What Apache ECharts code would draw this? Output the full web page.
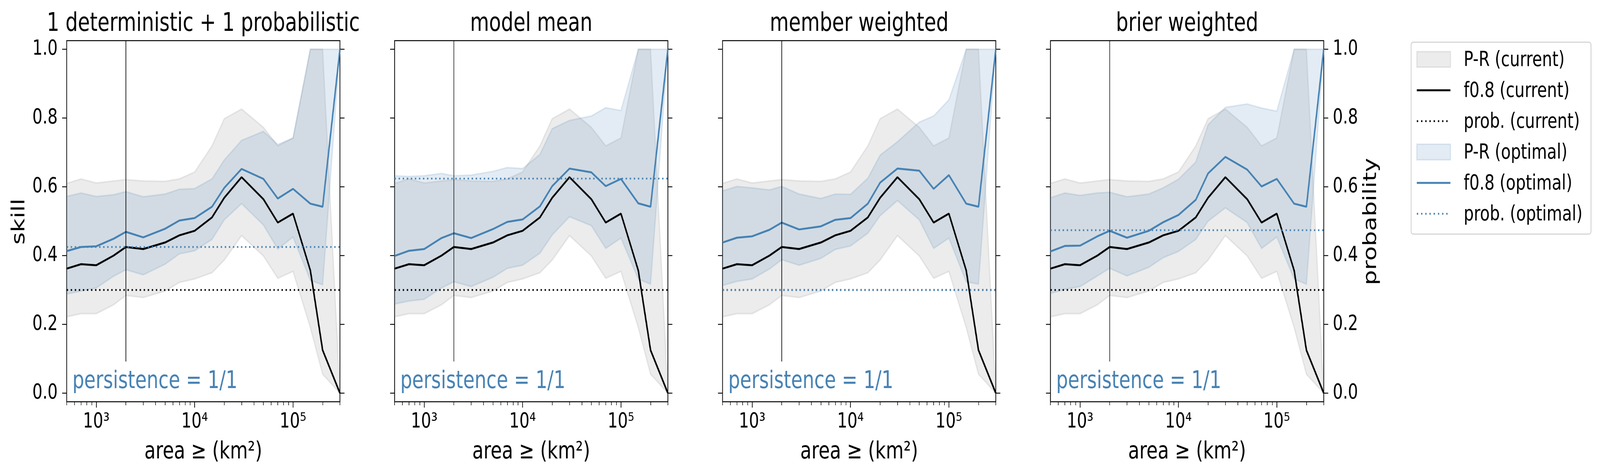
<!DOCTYPE html>
<html>
<head>
<meta charset="utf-8">
<script src="https://cdn.jsdelivr.net/npm/echarts@6.0.0/dist/echarts.min.js"></script>
<style>
  html, body { margin: 0; padding: 0; background: #fff; overflow: hidden; }
  #chart { width: 5328px; height: 1218px; transform-origin: 0 0; }
</style>
</head>
<body>
<div id="chart"></div>
<script>
// x values (area threshold, km²)
const areas = [500, 700, 1000, 1500, 2000, 3000, 5000, 7000, 10000, 15000, 20000, 30000, 50000, 70000, 100000, 150000, 200000, 300000];

const panelTitles = ["1 deterministic + 1 probabilistic", "model mean", "member weighted", "brier weighted"];

// current setup (same in every panel)
const f08Current = [0.362, 0.375, 0.372, 0.400, 0.425, 0.419, 0.438, 0.459, 0.472, 0.511, 0.568, 0.628, 0.564, 0.496, 0.522, 0.357, 0.125, 0.0];
const prCurrentHi = [0.610, 0.623, 0.611, 0.617, 0.621, 0.617, 0.616, 0.623, 0.643, 0.719, 0.798, 0.826, 0.773, 0.719, 0.742, 1.0, 1.0, 0.0];
const prCurrentLo = [0.222, 0.231, 0.231, 0.257, 0.284, 0.278, 0.297, 0.322, 0.332, 0.350, 0.387, 0.458, 0.399, 0.334, 0.354, 0.191, 0.055, 0.0];
const probCurrent = [0.30, 0.30, 0.30, 0.30];

// optimal setup, one array per panel
const f08Optimal = [
  [0.413, 0.425, 0.427, 0.449, 0.469, 0.453, 0.478, 0.502, 0.509, 0.542, 0.597, 0.652, 0.623, 0.566, 0.594, 0.551, 0.542, 1.0],
  [0.399, 0.414, 0.419, 0.451, 0.465, 0.451, 0.477, 0.498, 0.505, 0.543, 0.602, 0.653, 0.642, 0.602, 0.623, 0.552, 0.542, 1.0],
  [0.438, 0.452, 0.456, 0.475, 0.496, 0.476, 0.485, 0.504, 0.509, 0.551, 0.612, 0.653, 0.647, 0.594, 0.634, 0.551, 0.542, 1.0],
  [0.412, 0.428, 0.429, 0.456, 0.472, 0.452, 0.472, 0.497, 0.518, 0.562, 0.639, 0.687, 0.650, 0.601, 0.623, 0.551, 0.542, 1.0]
];
const prOptimalHi = [
  [0.572, 0.582, 0.572, 0.577, 0.586, 0.571, 0.579, 0.593, 0.595, 0.623, 0.678, 0.735, 0.761, 0.723, 0.742, 1.0, 1.0, 1.0],
  [0.632, 0.630, 0.632, 0.639, 0.632, 0.634, 0.645, 0.656, 0.653, 0.694, 0.769, 0.793, 0.806, 0.830, 0.822, 1.0, 1.0, 1.0],
  [0.588, 0.601, 0.597, 0.591, 0.601, 0.579, 0.566, 0.579, 0.578, 0.625, 0.692, 0.731, 0.788, 0.806, 0.853, 1.0, 1.0, 1.0],
  [0.568, 0.582, 0.575, 0.582, 0.584, 0.571, 0.579, 0.597, 0.622, 0.672, 0.780, 0.831, 0.841, 0.829, 0.820, 1.0, 1.0, 1.0]
];
const prOptimalLo = [
  [0.288, 0.297, 0.306, 0.340, 0.359, 0.344, 0.375, 0.405, 0.414, 0.447, 0.504, 0.551, 0.489, 0.419, 0.454, 0.328, 0.315, 1.0],
  [0.259, 0.268, 0.273, 0.306, 0.324, 0.310, 0.337, 0.363, 0.372, 0.407, 0.460, 0.513, 0.487, 0.421, 0.451, 0.332, 0.317, 1.0],
  [0.313, 0.325, 0.332, 0.361, 0.388, 0.372, 0.392, 0.418, 0.428, 0.465, 0.516, 0.560, 0.504, 0.421, 0.451, 0.324, 0.317, 1.0],
  [0.290, 0.302, 0.310, 0.341, 0.363, 0.341, 0.366, 0.394, 0.412, 0.447, 0.500, 0.539, 0.496, 0.421, 0.454, 0.332, 0.317, 1.0]
];
const probOptimal = [0.425, 0.624, 0.30, 0.474];

// vertical marker
const markerArea = 2000;
const markerRange = [0.092, 1.025];

const xMajorTicks = [1000, 10000, 100000];
const xMinorTicks = [500, 600, 700, 800, 900, 2000, 3000, 4000, 5000, 6000, 7000, 8000, 9000,
  20000, 30000, 40000, 50000, 60000, 70000, 80000, 90000, 200000, 300000];
const yTicks = [0, 0.2, 0.4, 0.6, 0.8, 1.0];

const legendNames = ["P-R (current)", "f0.8 (current)", "prob. (current)", "P-R (optimal)", "f0.8 (optimal)", "prob. (optimal)"];

const FONT = "DejaVu Sans";
const BLUE = "#4682b4";
const GRAY_FILL = "rgba(128,128,128,0.15)";
const BLUE_FILL = "rgba(70,130,180,0.15)";

const FIG_W = 5328, FIG_H = 1218;
const gridLeft = [222, 1314, 2406, 3498];
const gridTop = 104;
const gridW = 910;
const gridH = 924;

// the window may be smaller than the figure: fit the whole figure into it
const chartDom = document.getElementById("chart");
const sx = (window.innerWidth || FIG_W) / FIG_W;
const sy = (window.innerHeight || FIG_H) / FIG_H;
chartDom.style.transform = "scale(" + sx + "," + sy + ")";

const chart = echarts.init(chartDom);

const sup = { 3: "\u00b3", 4: "\u2074", 5: "\u2075" };

function bandItem(lo, hi, color) {
  return function (params, api) {
    if (params.dataIndex !== 0) return null;
    const pts = [];
    for (let j = 0; j < areas.length; j++) pts.push(api.coord([areas[j], hi[j]]));
    for (let j = areas.length - 1; j >= 0; j--) pts.push(api.coord([areas[j], lo[j]]));
    return {
      type: "polygon",
      shape: { points: pts },
      style: { fill: color, stroke: color, lineWidth: 4 }
    };
  };
}

const grids = [], xAxes = [], yAxes = [], series = [], graphics = [];

const tickLine = { color: "#000", width: 2.3 };
const labelBase = { color: "#000", fontSize: 53, fontFamily: FONT };
const noLine = { show: false, onZero: false };

for (let i = 0; i < 4; i++) {
  grids.push({
    left: gridLeft[i], top: gridTop, width: gridW, height: gridH,
    show: true, borderColor: "#000", borderWidth: 2.5, backgroundColor: "transparent",
    containLabel: false, outerBoundsMode: "none"
  });

  xAxes.push({
    gridIndex: i, type: "log", logBase: 10, min: 500, max: 300000, position: "bottom",
    axisLine: noLine, splitLine: { show: false }, minorTick: { show: false },
    axisTick: { show: true, length: 15, customValues: xMajorTicks, lineStyle: tickLine },
    axisLabel: Object.assign({}, labelBase, {
      customValues: xMajorTicks, margin: 26,
      formatter: v => "10" + sup[Math.round(Math.log10(v))]
    })
  });
  xAxes.push({
    gridIndex: i, type: "log", logBase: 10, min: 500, max: 300000, position: "bottom",
    axisLine: noLine, splitLine: { show: false }, minorTick: { show: false },
    axisTick: { show: true, length: 9, customValues: xMinorTicks, lineStyle: { color: "#000", width: 1.8 } },
    axisLabel: { show: false }
  });

  ["left", "right"].forEach(pos => {
    const showLab = (pos === "left" && i === 0) || (pos === "right" && i === 3);
    yAxes.push({
      gridIndex: i, type: "value", min: -0.025, max: 1.025, position: pos,
      axisLine: noLine, splitLine: { show: false },
      axisTick: { show: true, length: 15, customValues: yTicks, lineStyle: tickLine },
      axisLabel: Object.assign({}, labelBase, {
        show: showLab, customValues: yTicks, margin: 30,
        formatter: v => v.toFixed(1)
      })
    });
  });

  const xi = 2 * i, yl = 2 * i, yr = 2 * i + 1;

  series.push({
    type: "custom", name: "P-R (current)", xAxisIndex: xi, yAxisIndex: yl, silent: true, clip: true, z: 1,
    data: [[areas[0], prCurrentLo[0]]],
    renderItem: bandItem(prCurrentLo, prCurrentHi, GRAY_FILL)
  });
  series.push({
    type: "custom", name: "P-R (optimal)", xAxisIndex: xi, yAxisIndex: yl, silent: true, clip: true, z: 1,
    data: [[areas[0], prOptimalLo[i][0]]],
    renderItem: bandItem(prOptimalLo[i], prOptimalHi[i], BLUE_FILL)
  });
  series.push({
    type: "line", name: "f0.8 (current)", xAxisIndex: xi, yAxisIndex: yl, silent: true, z: 3,
    symbol: "none", lineStyle: { color: "#000", width: 5 },
    data: areas.map((a, j) => [a, f08Current[j]])
  });
  series.push({
    type: "line", name: "f0.8 (optimal)", xAxisIndex: xi, yAxisIndex: yl, silent: true, z: 3,
    symbol: "none", lineStyle: { color: BLUE, width: 5 },
    data: areas.map((a, j) => [a, f08Optimal[i][j]])
  });
  series.push({
    type: "line", name: "prob. (current)", xAxisIndex: xi, yAxisIndex: yr, silent: true, z: 4,
    symbol: "none", lineStyle: { color: "#000", width: 4.5, type: [4.5, 9] },
    data: [[areas[0], probCurrent[i]], [areas[areas.length - 1], probCurrent[i]]]
  });
  series.push({
    type: "line", name: "prob. (optimal)", xAxisIndex: xi, yAxisIndex: yr, silent: true, z: 4,
    symbol: "none", lineStyle: { color: BLUE, width: 4.5, type: [4.5, 9] },
    data: [[areas[0], probOptimal[i]], [areas[areas.length - 1], probOptimal[i]]]
  });
  series.push({
    type: "line", xAxisIndex: xi, yAxisIndex: yl, silent: true, z: 5,
    symbol: "none", lineStyle: { color: "#000", width: 2 },
    data: [[markerArea, markerRange[0]], [markerArea, markerRange[1]]]
  });

  const cx = gridLeft[i] + gridW / 2;
  graphics.push({
    type: "text", x: cx, y: 62,
    style: { text: panelTitles[i], fontSize: 65, fontFamily: FONT, fill: "#000", align: "center", verticalAlign: "middle" }
  });
  graphics.push({
    type: "text", x: cx, y: 1157,
    style: { text: "area \u2265 (km\u00b2)", fontSize: 61, fontFamily: FONT, fill: "#000", align: "center", verticalAlign: "middle" }
  });
  graphics.push({
    type: "text", x: gridLeft[i] + 19, y: 977,
    style: { text: "persistence = 1/1", fontSize: 62, fontFamily: FONT, fill: BLUE, align: "left", verticalAlign: "middle" }
  });
}

graphics.push({
  type: "text", x: 65, y: 567, rotation: Math.PI / 2,
  style: { text: "skill", fontSize: 61, fontFamily: FONT, fill: "#000", align: "center", verticalAlign: "middle" }
});
graphics.push({
  type: "text", x: 4566, y: 567, rotation: Math.PI / 2,
  style: { text: "probability", fontSize: 61, fontFamily: FONT, fill: "#000", align: "center", verticalAlign: "middle" }
});

// legend box
const legendRows = [152, 231, 310, 389, 468, 547];
const legendKinds = [
  { kind: "patch", color: GRAY_FILL },
  { kind: "line", color: "#000" },
  { kind: "dot", color: "#000" },
  { kind: "patch", color: BLUE_FILL },
  { kind: "line", color: BLUE },
  { kind: "dot", color: BLUE }
];
graphics.push({
  type: "rect", shape: { x: 4699, y: 108, width: 599, height: 491, r: 7 },
  style: { fill: "#fff", stroke: "#d5d5d5", lineWidth: 3 }, z: 10
});
legendKinds.forEach((it, k) => {
  const y = legendRows[k];
  if (it.kind === "patch") {
    graphics.push({ type: "rect", shape: { x: 4718, y: y - 20, width: 112, height: 40 },
      style: { fill: it.color, stroke: it.color, lineWidth: 4 }, z: 11 });
  } else {
    graphics.push({ type: "line", shape: { x1: 4718, y1: y, x2: 4830, y2: y },
      style: { stroke: it.color, lineWidth: it.kind === "dot" ? 4.5 : 5, lineDash: it.kind === "dot" ? [4.5, 9.5] : null }, z: 11 });
  }
  graphics.push({ type: "text", x: 4874, y: y + 3, z: 11,
    style: { text: legendNames[k], fontSize: 53, fontFamily: FONT, fill: "#000", align: "left", verticalAlign: "middle" } });
});

chart.setOption({
  animation: false,
  backgroundColor: "#fff",
  grid: grids,
  xAxis: xAxes,
  yAxis: yAxes,
  series: series,
  graphic: graphics
});
</script>
</body>
</html>
